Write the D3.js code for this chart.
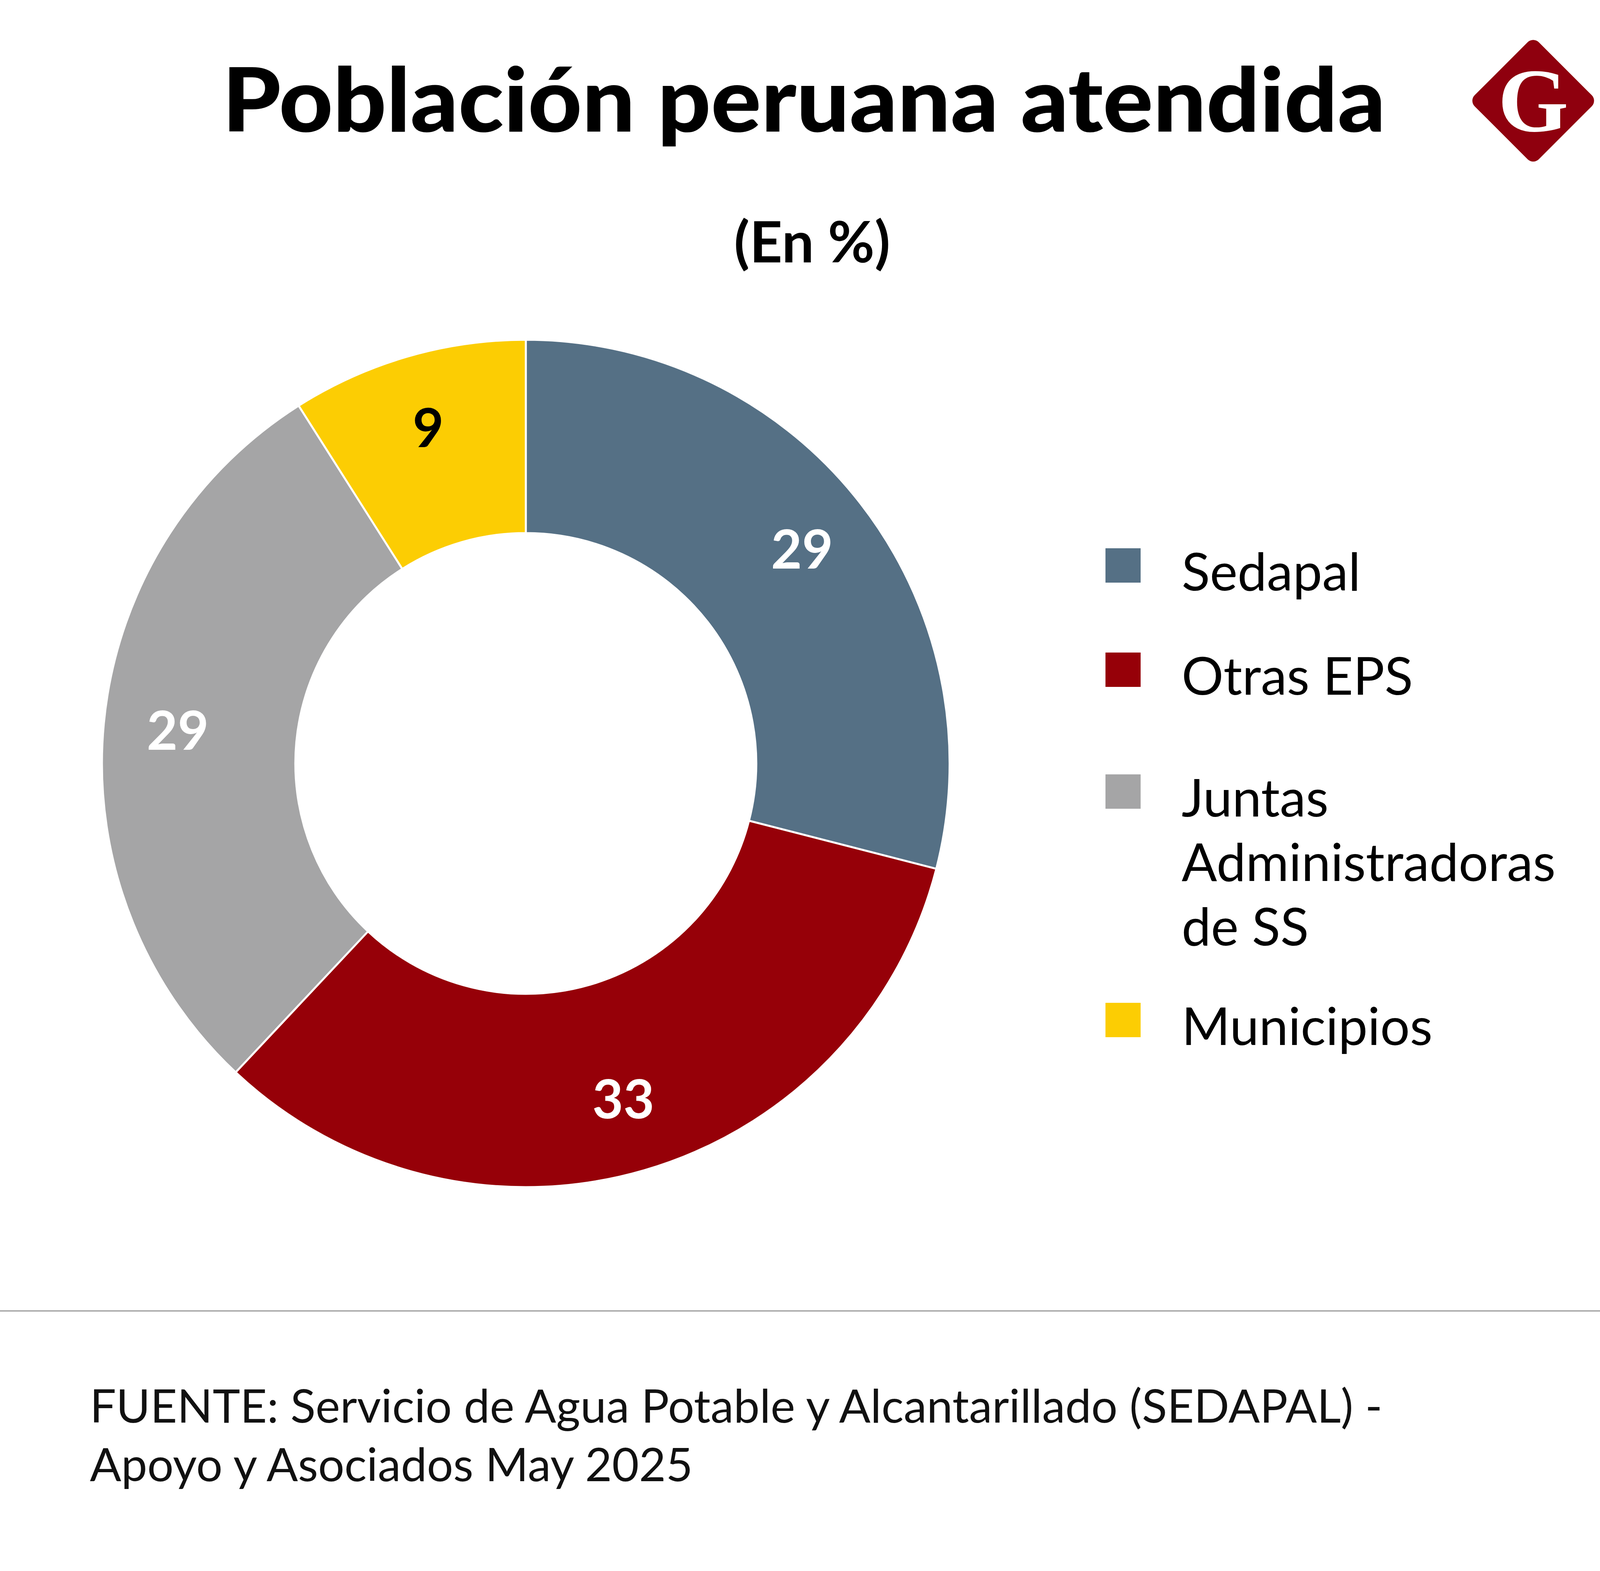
<!DOCTYPE html>
<html>
<head>
<meta charset="utf-8">
<script src="https://cdn.jsdelivr.net/npm/d3@7"></script>
<style>
  body { margin: 0; background: #fff; }
  svg { display: block; }
</style>
</head>
<body>
<svg id="chart"></svg>
<script>
// data (percent)
var categories = ["Sedapal", "Otras EPS", "Juntas Administradoras de SS", "Municipios"];
var values = [29, 33, 29, 9];
var colors = ["#557085", "#960008", "#a5a5a6", "#fccd03"];
var labelColors = ["#fff", "#fff", "#fff", "#000"];
// legend lines (Juntas wraps over three lines)
var legendLines = [["Sedapal"], ["Otras EPS"], ["Juntas", "Administradoras", "de SS"], ["Municipios"]];

var W = 4150, H = 4023;
var cx = 1346, cy = 1955,
    outerR = 1085, innerR = 590;

var svg = d3.select("#chart")
    .attr("width", W)
    .attr("height", H);

svg.append("rect").attr("width", W).attr("height", H).attr("fill", "#fff");

// title (stretched a little to the width of the original heavy face)
svg.append("text")
    .attr("x", 569)
    .attr("y", 337)
    .attr("textLength", 2978)
    .attr("lengthAdjust", "spacingAndGlyphs")
    .style("font-family", "Lato, 'Noto Sans', sans-serif")
    .style("font-weight", 900)
    .style("font-size", "228px")
    .text("Población peruana atendida");

// subtitle
svg.append("text")
    .attr("x", 2079)
    .attr("y", 672)
    .attr("text-anchor", "middle")
    .style("font-family", "Lato, 'Noto Sans', sans-serif")
    .style("font-weight", 700)
    .style("font-size", "146px")
    .text("(En %)");

// logo: rounded diamond with a serif G
var logo = svg.append("g").attr("transform", "translate(3925,258)");
logo.append("rect")
    .attr("x", -116).attr("y", -116)
    .attr("width", 232).attr("height", 232)
    .attr("rx", 20)
    .attr("transform", "rotate(45)")
    .attr("fill", "#8f000e");
logo.append("text")
    .attr("x", 0)
    .attr("y", 78)
    .attr("text-anchor", "middle")
    .style("font-family", "'Liberation Serif', 'DejaVu Serif', serif")
    .style("font-weight", 700)
    .style("font-size", "232px")
    .attr("fill", "#fff")
    .text("G");

// donut
var pie = d3.pie().sort(null).value(function(d) { return d; });
var arc = d3.arc().innerRadius(innerR).outerRadius(outerR);
var labelArc = d3.arc().innerRadius(895).outerRadius(895);

var g = svg.append("g").attr("transform", "translate(" + cx + "," + cy + ")");

g.selectAll(".slice")
    .data(pie(values))
    .enter().append("path")
    .attr("class", "slice")
    .attr("d", arc)
    .attr("fill", function(d, i) { return colors[i]; })
    .attr("stroke", "#fff")
    .attr("stroke-width", 5);

g.selectAll(".val")
    .data(pie(values))
    .enter().append("text")
    .attr("class", "val")
    .attr("transform", function(d) { return "translate(" + labelArc.centroid(d) + ")"; })
    .attr("text-anchor", "middle")
    .attr("dy", "0.36em")
    .style("font-family", "Lato, 'Noto Sans', sans-serif")
    .style("font-weight", 700)
    .style("font-size", "137px")
    .attr("fill", function(d, i) { return labelColors[i]; })
    .text(function(d) { return d.data; });

// legend
var legendTop = [1404, 1671, 1983, 2568];
var legend = svg.append("g");
legendLines.forEach(function(lines, i) {
    legend.append("rect")
        .attr("x", 2830)
        .attr("y", legendTop[i])
        .attr("width", 90)
        .attr("height", 88)
        .attr("fill", colors[i]);
    var t = legend.append("text")
        .style("font-family", "Lato, 'Noto Sans', sans-serif")
        .style("font-weight", 400)
        .style("font-size", "134px")
        .attr("fill", "#000");
    lines.forEach(function(line, j) {
        t.append("tspan")
            .attr("x", 3025)
            .attr("y", legendTop[i] + 108 + j * 165)
            .text(line);
    });
});

// separator
svg.append("line")
    .attr("x1", 0).attr("x2", W)
    .attr("y1", 3357).attr("y2", 3357)
    .attr("stroke", "#999")
    .attr("stroke-width", 3);

// source
var source = ["FUENTE: Servicio de Agua Potable y Alcantarillado (SEDAPAL) -", "Apoyo y Asociados May 2025"];
svg.append("g").selectAll("text")
    .data(source)
    .enter().append("text")
    .attr("x", 230)
    .attr("y", function(d, i) { return 3643 + i * 150; })
    .style("font-family", "Lato, 'Noto Sans', sans-serif")
    .style("font-weight", 400)
    .style("font-size", "119px")
    .attr("fill", "#111")
    .text(function(d) { return d; });
</script>
</body>
</html>
